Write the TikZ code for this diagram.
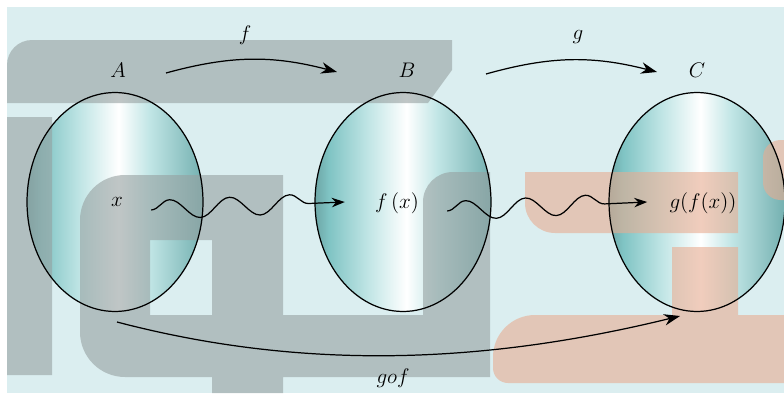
\documentclass[tikz,border=0pt]{standalone}
\usepackage{amsmath,amssymb}
\usepackage{tikz}
\usetikzlibrary{arrows.meta,calc,shapes.geometric,decorations.pathmorphing}

\definecolor{bgblue}{RGB}{219,238,240}
\definecolor{lensedge}{RGB}{128,196,196}
\definecolor{lensmid}{RGB}{192,229,229}
\definecolor{wmgray}{RGB}{150,160,160}
\definecolor{wmsalmon}{RGB}{232,172,145}

% shading of the three sets: teal at the rim, white band in the middle
\pgfdeclarehorizontalshading{lens}{100bp}{color(0bp)=(lensedge!85!black); color(25bp)=(lensedge!85!black); color(29bp)=(lensedge); color(40bp)=(lensmid); color(51bp)=(white); color(60bp)=(lensmid); color(75bp)=(lensedge!90!black); color(100bp)=(lensedge!90!black)}

\begin{document}
\begin{tikzpicture}[x=0.02cm, y=0.02cm, >={Stealth[length=3.2mm, width=2.3mm]}, line width=0.7pt,
    set/.style={ellipse, minimum width=3.52cm, minimum height=4.38cm, inner sep=0pt, outer sep=0pt, shading=lens},
    lbl/.style={font=\large, inner sep=1pt},
    wave/.style={-{Stealth[length=2.6mm, width=1.9mm]}, decorate, decoration={snake, amplitude=0.19cm, segment length=1.2cm, post length=0.45cm}}]

    % 0. 画布与背景
    \useasboundingbox (0,0) rectangle (784,393);
    \fill[white] (0,0) rectangle (784,393);
    \fill[bgblue] (7,0) rectangle (784,386);

    % 1. 三个集合
    \node[set] (A) at (115,191) {};
    \node[set] (B) at (403,191) {};
    \node[set] (C) at (697,191) {};

    % 2. 水印 (半透明)
    \begin{scope}
    \clip (0,0) rectangle (784,393);
    \fill[wmgray, fill opacity=0.6]
        (7,290) -- (7,328) arc[start angle=180, end angle=90, radius=25]
            -- (452,353) -- (452,323) -- (428,290) -- cycle
        (7,18) rectangle (52,276)
        (283,218) -- (125,218) arc[start angle=90, end angle=180, radius=45]
            -- (80,61) arc[start angle=180, end angle=270, radius=45]
            -- (212,16) -- (212,0) -- (283,0) -- (283,16) -- (490,16)
            -- (490,221) -- (453,221) arc[start angle=90, end angle=180, radius=30]
            -- (423,78) -- (283,78) -- cycle
        (150,78) -- (150,153) -- (212,153) -- (212,78) -- cycle;
    \fill[wmsalmon, fill opacity=0.6]
        (525,221) -- (738,221) -- (738,160) -- (555,160)
            arc[start angle=270, end angle=180, radius=30] -- cycle
        (784,10) -- (784,78) -- (738,78) -- (738,146) -- (672,146) -- (672,78)
            -- (535,78) arc[start angle=90, end angle=180, radius=42]
            -- (493,25) arc[start angle=180, end angle=270, radius=15] -- cycle;
    \fill[wmsalmon, fill opacity=0.6, rounded corners=0.35cm] (763,193) rectangle (810,253);
    \end{scope}

    % 3. 集合轮廓
    \foreach \s in {A,B,C} {
        \draw (\s.center) ellipse [x radius=1.76cm, y radius=2.19cm];
    }

    % 4. 集合名称与映射名称
    \node[lbl] (la) at (118,323) {$A$};
    \node[lbl] (lb) at (407,323) {$B$};
    \node[lbl] (lc) at (697,323) {$C$};
    \node[lbl] (lf) at (245,358) {$f$};
    \node[lbl] (lg) at (578,356) {$g$};

    % 5. 元素
    \node[lbl] (x) at (117,191) {$x$};
    \node[lbl] (fx) at (397,190) {$f\,(x)$};
    \node[lbl] (gfx) at (703,190) {$g(f(x))$};
    \node[lbl] (gof) at (393,15) {$gof$};

    % 6. 映射箭头
    \coordinate (f0) at (166,320);
    \coordinate (f1) at (337,321);
    \coordinate (g0) at (486,319);
    \coordinate (g1) at (657,321);
    \draw[->] (f0) to[bend left=15] (f1);
    \draw[->] (g0) to[bend left=15] (g1);

    % 波浪箭头 x -> f(x) -> g(f(x))
    \coordinate (w0) at ($(x.east)+(26,-8)$);
    \coordinate (w1) at ($(fx.west)+(-28,1)$);
    \coordinate (w2) at ($(fx.east)+(26,-8)$);
    \coordinate (w3) at ($(gfx.west)+(-20,1)$);
    \draw[wave] (w0) -- (w1);
    \draw[wave] (w2) -- (w3);

    % 复合映射 gof
    \coordinate (c0) at (117,71);
    \coordinate (c1) at (680,77);
    \draw[->] (c0) .. controls (300,23) and (480,28) .. (c1);

\end{tikzpicture}
\end{document}
